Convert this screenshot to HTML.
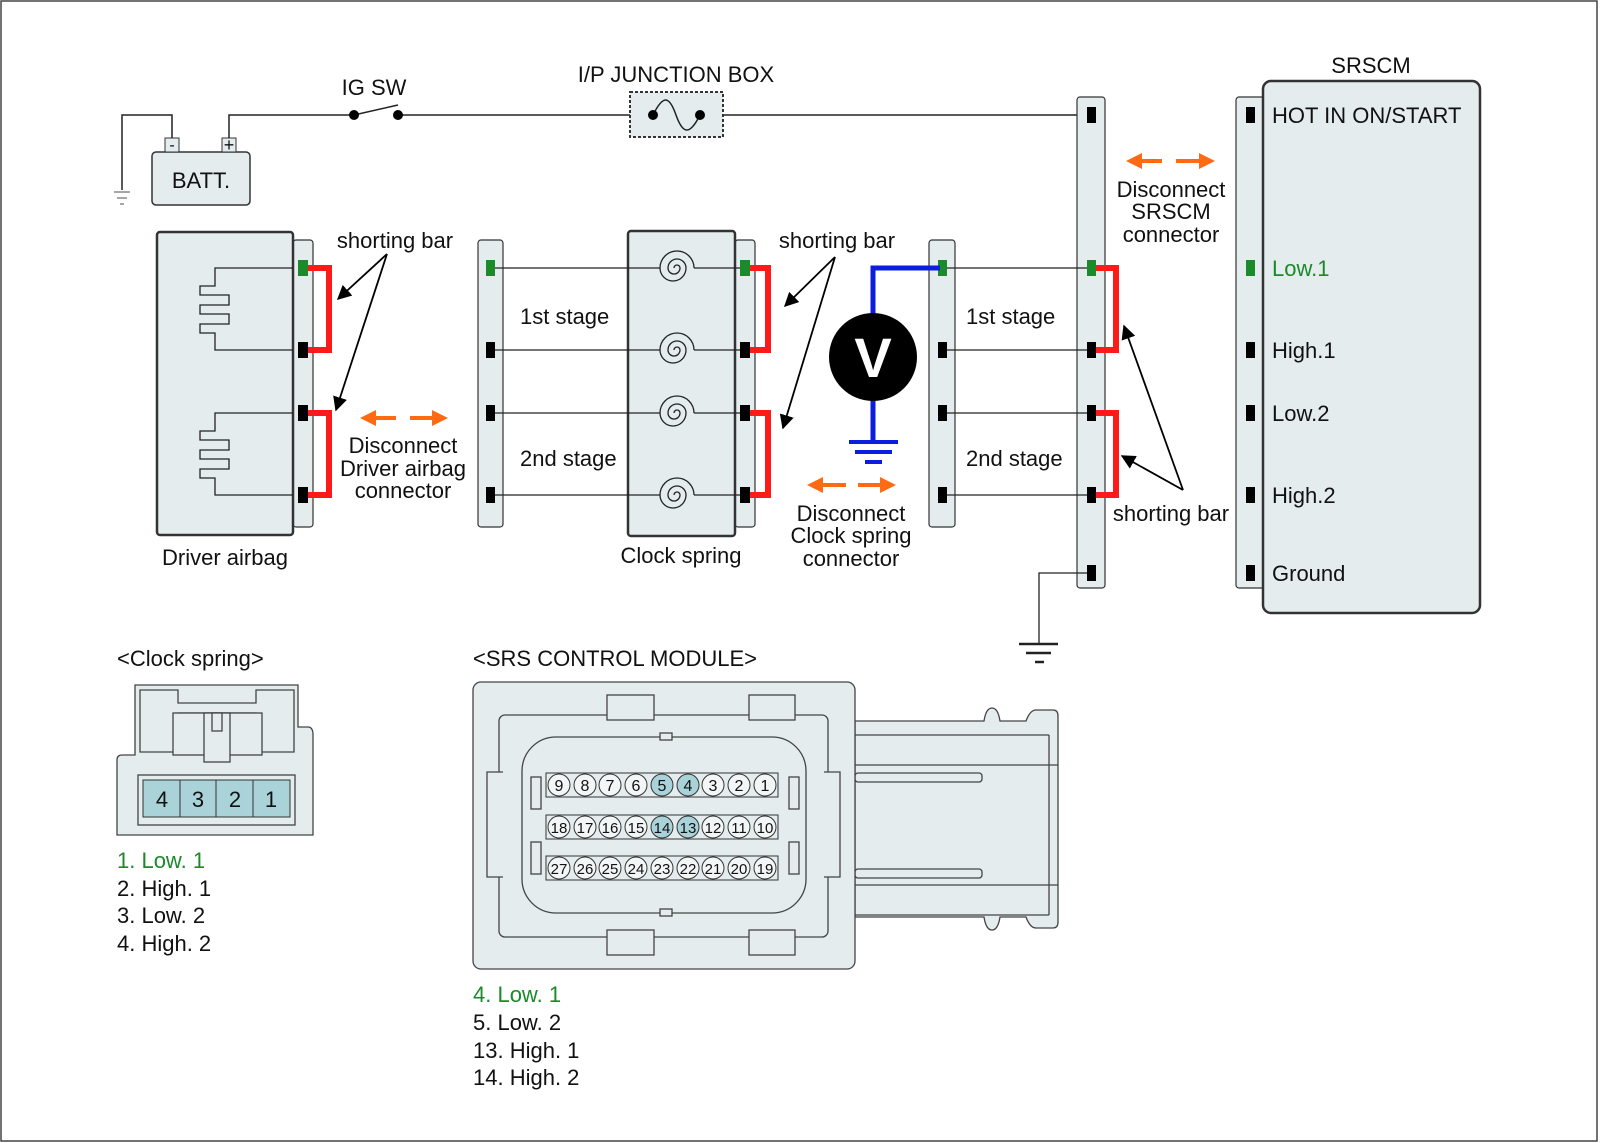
<!DOCTYPE html>
<html><head><meta charset="utf-8"><style>
html,body{margin:0;padding:0;background:#fff}
svg{display:block}
text{font-family:"Liberation Sans",Arial,sans-serif;font-size:22px;fill:#111}
</style></head><body>
<svg width="1600" height="1143" viewBox="0 0 1600 1143" xmlns="http://www.w3.org/2000/svg">
<defs>
<marker id="ah" viewBox="0 0 10 10" refX="9" refY="5" markerWidth="8" markerHeight="8" orient="auto-start-reverse"><path d="M0,0 L10,5 L0,10 Z" fill="#000"/></marker>
<marker id="oh" viewBox="0 0 10 10" refX="5" refY="5" markerWidth="4" markerHeight="4" orient="auto-start-reverse"><path d="M0,0 L10,5 L0,10 Z" fill="#ff6a13"/></marker>
</defs>
<rect x="1" y="1" width="1596" height="1140" fill="#fff" stroke="#444" stroke-width="1.5"/>

<g fill="#e4ecee" stroke="#333" stroke-width="1.5">
<rect x="152" y="152" width="98" height="53" rx="4"/>
<rect x="165" y="138" width="14" height="14" stroke-width="1"/>
<rect x="222" y="138" width="14" height="14" stroke-width="1"/>
</g>
<text x="201" y="188" text-anchor="middle">BATT.</text>
<text x="172" y="150" text-anchor="middle" style="font-size:16px">-</text>
<text x="229" y="151" text-anchor="middle" style="font-size:18px">+</text>
<g stroke="#222" stroke-width="1.5" fill="none">
<path d="M172,138 V115 H122 V190"/>
<path d="M229,138 V115 H354"/>
<path d="M354,115 L398,105"/>
<path d="M398,115 H653"/>
<path d="M700,115 H1091"/>
</g>
<g stroke="#888" stroke-width="1.5"><line x1="114" y1="192" x2="130" y2="192"/><line x1="117" y1="198" x2="127" y2="198"/><line x1="120" y1="204" x2="124" y2="204"/></g>
<circle cx="354" cy="115" r="5" fill="#000"/><circle cx="398" cy="115" r="5" fill="#000"/>
<text x="374" y="95" text-anchor="middle">IG SW</text>
<rect x="630" y="92" width="93" height="45" fill="#e4ecee" stroke="#333" stroke-width="2" stroke-dasharray="3,2"/>
<path d="M653,115 C663,95 669,95 676,115 C683,135 690,135 700,115" fill="none" stroke="#222" stroke-width="1.5"/>
<circle cx="653" cy="115" r="5" fill="#000"/><circle cx="700" cy="115" r="5" fill="#000"/>
<text x="676" y="82" text-anchor="middle">I/P JUNCTION BOX</text>

<g fill="#e4ecee" stroke="#333">
<rect x="293" y="240" width="20" height="287" rx="3" stroke-width="1.2"/>
<rect x="157" y="232" width="136" height="303" rx="3" stroke-width="2.5"/>
<rect x="478" y="240" width="25" height="287" rx="3" stroke-width="1.2"/>
<rect x="735" y="240" width="20" height="287" rx="3" stroke-width="1.2"/>
<rect x="628" y="231" width="107" height="305" rx="3" stroke-width="2.5"/>
<rect x="929" y="240" width="26" height="287" rx="3" stroke-width="1.2"/>
<rect x="1077" y="97" width="28" height="491" rx="3" stroke-width="1.2"/>
<rect x="1236" y="97" width="30" height="491" rx="3" stroke-width="1.2"/>
<rect x="1263" y="81" width="217" height="532" rx="8" stroke-width="2.5"/>
</g>
<g fill="none" stroke="#222" stroke-width="1.3">
<path d="M293,268 H215 V286 H200 V295 H229 V305 H200 V314 H229 V324 H200 V333 H215 V350 H293"/>
<path d="M293,413 H215 V431 H200 V440 H229 V450 H200 V459 H229 V469 H200 V478 H215 V495 H293"/>
<path d="M490,268 H660 M694,268 H744"/>
<path d="M490,350 H660 M694,350 H744"/>
<path d="M490,413 H660 M694,413 H744"/>
<path d="M490,495 H660 M694,495 H744"/>
<path d="M942,268 H1091 M942,350 H1091 M942,413 H1091 M942,495 H1091"/>
<path d="M1091,573 H1039 V644"/>
</g>
<g fill="none" stroke="#222" stroke-width="1.3">
<path d="M694,268 A17,17 0 0,0 660,268 A13,13 0 0,0 686,268 A9,9 0 0,0 668,268 A6,6 0 0,0 680,268 A3,3 0 0,0 674,268"/>
<path d="M694,350 A17,17 0 0,0 660,350 A13,13 0 0,0 686,350 A9,9 0 0,0 668,350 A6,6 0 0,0 680,350 A3,3 0 0,0 674,350"/>
<path d="M694,413 A17,17 0 0,0 660,413 A13,13 0 0,0 686,413 A9,9 0 0,0 668,413 A6,6 0 0,0 680,413 A3,3 0 0,0 674,413"/>
<path d="M694,495 A17,17 0 0,0 660,495 A13,13 0 0,0 686,495 A9,9 0 0,0 668,495 A6,6 0 0,0 680,495 A3,3 0 0,0 674,495"/>
</g>
<g stroke="#222" stroke-width="2.5"><line x1="1019" y1="644" x2="1058" y2="644"/><line x1="1026" y1="653" x2="1051" y2="653"/><line x1="1035" y1="662" x2="1044" y2="662"/></g>

<g fill="none" stroke="#ff1a1a" stroke-width="6">
<path d="M305,268 H329 V350 H305"/><path d="M305,413 H329 V495 H305"/>
<path d="M746,268 H768 V350 H746"/><path d="M746,413 H768 V495 H746"/>
<path d="M1093,268 H1116 V350 H1093"/><path d="M1093,413 H1116 V495 H1093"/>
</g>
<g fill="#000">
<rect x="298" y="342" width="10" height="16"/><rect x="298" y="405" width="10" height="16"/><rect x="298" y="487" width="10" height="16"/>
<rect x="486" y="342" width="9" height="16"/><rect x="486" y="405" width="9" height="16"/><rect x="486" y="487" width="9" height="16"/>
<rect x="740" y="342" width="10" height="16"/><rect x="740" y="405" width="10" height="16"/><rect x="740" y="487" width="10" height="16"/>
<rect x="938" y="342" width="9" height="16"/><rect x="938" y="405" width="9" height="16"/><rect x="938" y="487" width="9" height="16"/>
<rect x="1087" y="107" width="9" height="16"/><rect x="1087" y="342" width="9" height="16"/><rect x="1087" y="405" width="9" height="16"/><rect x="1087" y="487" width="9" height="16"/><rect x="1087" y="565" width="9" height="16"/>
<rect x="1246" y="107" width="9" height="16"/><rect x="1246" y="342" width="9" height="16"/><rect x="1246" y="405" width="9" height="16"/><rect x="1246" y="487" width="9" height="16"/><rect x="1246" y="565" width="9" height="16"/>
</g>
<g fill="#1a8a2a">
<rect x="298" y="260" width="10" height="16"/><rect x="486" y="260" width="9" height="16"/><rect x="740" y="260" width="10" height="16"/><rect x="938" y="260" width="9" height="16"/><rect x="1087" y="260" width="9" height="16"/><rect x="1246" y="260" width="9" height="16"/>
</g>
<path d="M873,357 V268 H940" fill="none" stroke="#0b1ee0" stroke-width="5"/>
<path d="M873,357 V442" fill="none" stroke="#0b1ee0" stroke-width="5"/>
<g stroke="#0b1ee0" stroke-width="4"><line x1="849" y1="442" x2="898" y2="442"/><line x1="855" y1="452" x2="892" y2="452"/><line x1="865" y1="462" x2="882" y2="462"/></g>
<circle cx="873" cy="357" r="44" fill="#000"/>
<text x="873" y="377" text-anchor="middle" style="font-size:56px;font-weight:bold;fill:#fff">V</text>

<g stroke="#ff6a13" stroke-width="4">
<line x1="368" y1="418" x2="396" y2="418" marker-start="url(#oh)"/><line x1="410" y1="418" x2="440" y2="418" marker-end="url(#oh)"/>
<line x1="815" y1="485" x2="846" y2="485" marker-start="url(#oh)"/><line x1="858" y1="485" x2="888" y2="485" marker-end="url(#oh)"/>
<line x1="1134" y1="161" x2="1162" y2="161" marker-start="url(#oh)"/><line x1="1176" y1="161" x2="1207" y2="161" marker-end="url(#oh)"/>
</g>
<g stroke="#000" stroke-width="1.8" fill="none">
<line x1="387" y1="254" x2="338" y2="299" marker-end="url(#ah)"/>
<line x1="387" y1="254" x2="336" y2="410" marker-end="url(#ah)"/>
<line x1="835" y1="257" x2="785" y2="306" marker-end="url(#ah)"/>
<line x1="835" y1="257" x2="783" y2="428" marker-end="url(#ah)"/>
<line x1="1183" y1="490" x2="1124" y2="326" marker-end="url(#ah)"/>
<line x1="1183" y1="490" x2="1122" y2="456" marker-end="url(#ah)"/>
</g>
<text x="395" y="248" text-anchor="middle">shorting bar</text>
<text x="837" y="248" text-anchor="middle">shorting bar</text>
<text x="1171" y="521" text-anchor="middle">shorting bar</text>
<text x="403" y="453" text-anchor="middle">Disconnect</text>
<text x="403" y="476" text-anchor="middle">Driver airbag</text>
<text x="403" y="498" text-anchor="middle">connector</text>
<text x="851" y="521" text-anchor="middle">Disconnect</text>
<text x="851" y="543" text-anchor="middle">Clock spring</text>
<text x="851" y="566" text-anchor="middle">connector</text>
<text x="1171" y="197" text-anchor="middle">Disconnect</text>
<text x="1171" y="219" text-anchor="middle">SRSCM</text>
<text x="1171" y="242" text-anchor="middle">connector</text>
<text x="225" y="565" text-anchor="middle">Driver airbag</text>
<text x="681" y="563" text-anchor="middle">Clock spring</text>
<text x="520" y="324">1st stage</text>
<text x="520" y="466">2nd stage</text>
<text x="966" y="324">1st stage</text>
<text x="966" y="466">2nd stage</text>
<text x="1371" y="73" text-anchor="middle">SRSCM</text>
<text x="1272" y="123">HOT IN ON/START</text>
<text x="1272" y="276" style="fill:#1a8a2a">Low.1</text>
<text x="1272" y="358">High.1</text>
<text x="1272" y="421">Low.2</text>
<text x="1272" y="503">High.2</text>
<text x="1272" y="581">Ground</text>

<text x="117" y="666">&lt;Clock spring&gt;</text>
<g fill="#e4ecee" stroke="#444" stroke-width="1.3">
<path d="M135,755 V685 H298 V727 H308 Q313,727 313,735 V835 H117 V760 Q117,755 122,755 Z"/>
<rect x="138" y="775" width="157" height="50"/>
<path d="M140,690 H178 V703 H256 V690 H294 V752 H256 V713 H178 V752 H140 Z"/>
<rect x="173" y="713" width="89" height="42"/>
<rect x="204" y="713" width="26" height="49"/>
<rect x="212" y="713" width="10" height="18"/>
</g>
<g fill="#a9d3d9" stroke="#333" stroke-width="1">
<rect x="143" y="780" width="37" height="37"/><rect x="180" y="780" width="36" height="37"/><rect x="216" y="780" width="37" height="37"/><rect x="253" y="780" width="37" height="37"/>
</g>
<text x="162" y="807" text-anchor="middle">4</text>
<text x="198" y="807" text-anchor="middle">3</text>
<text x="235" y="807" text-anchor="middle">2</text>
<text x="271" y="807" text-anchor="middle">1</text>
<text x="117" y="868" style="fill:#1a8a2a">1. Low. 1</text>
<text x="117" y="896">2. High. 1</text>
<text x="117" y="923">3. Low. 2</text>
<text x="117" y="951">4. High. 2</text>

<text x="473" y="666">&lt;SRS CONTROL MODULE&gt;</text>
<g fill="#e4ecee" stroke="#444" stroke-width="1.3">
<path d="M855,721 H984 Q986,708 992,708 Q998,708 1000,721 H1026 Q1030,710 1036,710 H1053 Q1058,710 1058,716 V922 Q1058,928 1053,928 H1036 Q1030,928 1026,917 H1000 Q998,930 992,930 Q986,930 984,917 H855 Z"/>
<line x1="855" y1="735" x2="1049" y2="735"/><line x1="855" y1="915" x2="1049" y2="915"/>
<line x1="855" y1="765" x2="1058" y2="765"/><line x1="855" y1="885" x2="1058" y2="885"/>
<line x1="1049" y1="735" x2="1049" y2="915"/>
<rect x="855" y="773" width="127" height="9" rx="3"/><rect x="855" y="869" width="127" height="9" rx="3"/>
<rect x="473" y="682" width="382" height="287" rx="8"/>
<rect x="499" y="715" width="329" height="222" rx="6"/>
<rect x="607" y="695" width="47" height="25"/><rect x="749" y="695" width="46" height="25"/>
<rect x="607" y="930" width="47" height="25"/><rect x="749" y="930" width="46" height="25"/>
<path d="M503,772 H487 V877 H503" />
<path d="M824,772 H840 V877 H824" />
<rect x="522" y="737" width="284" height="176" rx="34"/>
<rect x="660" y="733" width="12" height="7"/><rect x="660" y="909" width="12" height="7"/>
<rect x="531" y="777" width="10" height="32"/><rect x="531" y="842" width="10" height="32"/>
<rect x="789" y="777" width="10" height="32"/><rect x="789" y="842" width="10" height="32"/>
</g>
<g stroke="#333" stroke-width="1">
<rect x="546" y="773" width="232" height="24" fill="#e4ecee"/>
<rect x="546" y="815" width="232" height="24" fill="#e4ecee"/>
<rect x="546" y="856" width="232" height="24" fill="#e4ecee"/>
</g>
<g stroke="#333" stroke-width="1" fill="#f2f6f7">
<circle cx="559" cy="785" r="11"/><circle cx="585" cy="785" r="11"/><circle cx="610" cy="785" r="11"/><circle cx="636" cy="785" r="11"/><circle cx="662" cy="785" r="11" fill="#a9d3d9"/><circle cx="688" cy="785" r="11" fill="#a9d3d9"/><circle cx="713" cy="785" r="11"/><circle cx="739" cy="785" r="11"/><circle cx="765" cy="785" r="11"/>
<circle cx="559" cy="827" r="11"/><circle cx="585" cy="827" r="11"/><circle cx="610" cy="827" r="11"/><circle cx="636" cy="827" r="11"/><circle cx="662" cy="827" r="11" fill="#a9d3d9"/><circle cx="688" cy="827" r="11" fill="#a9d3d9"/><circle cx="713" cy="827" r="11"/><circle cx="739" cy="827" r="11"/><circle cx="765" cy="827" r="11"/>
<circle cx="559" cy="868" r="11"/><circle cx="585" cy="868" r="11"/><circle cx="610" cy="868" r="11"/><circle cx="636" cy="868" r="11"/><circle cx="662" cy="868" r="11"/><circle cx="688" cy="868" r="11"/><circle cx="713" cy="868" r="11"/><circle cx="739" cy="868" r="11"/><circle cx="765" cy="868" r="11"/>
</g>
<g text-anchor="middle">
<text x="559" y="791" style="font-size:16px">9</text><text x="585" y="791" style="font-size:16px">8</text><text x="610" y="791" style="font-size:16px">7</text><text x="636" y="791" style="font-size:16px">6</text><text x="662" y="791" style="font-size:16px">5</text><text x="688" y="791" style="font-size:16px">4</text><text x="713" y="791" style="font-size:16px">3</text><text x="739" y="791" style="font-size:16px">2</text><text x="765" y="791" style="font-size:16px">1</text>
<text x="559" y="833" style="font-size:15px">18</text><text x="585" y="833" style="font-size:15px">17</text><text x="610" y="833" style="font-size:15px">16</text><text x="636" y="833" style="font-size:15px">15</text><text x="662" y="833" style="font-size:15px">14</text><text x="688" y="833" style="font-size:15px">13</text><text x="713" y="833" style="font-size:15px">12</text><text x="739" y="833" style="font-size:15px">11</text><text x="765" y="833" style="font-size:15px">10</text>
<text x="559" y="874" style="font-size:15px">27</text><text x="585" y="874" style="font-size:15px">26</text><text x="610" y="874" style="font-size:15px">25</text><text x="636" y="874" style="font-size:15px">24</text><text x="662" y="874" style="font-size:15px">23</text><text x="688" y="874" style="font-size:15px">22</text><text x="713" y="874" style="font-size:15px">21</text><text x="739" y="874" style="font-size:15px">20</text><text x="765" y="874" style="font-size:15px">19</text>
</g>
<text x="473" y="1002" style="fill:#1a8a2a">4. Low. 1</text>
<text x="473" y="1030">5. Low. 2</text>
<text x="473" y="1058">13. High. 1</text>
<text x="473" y="1085">14. High. 2</text>
</svg>
</body></html>
